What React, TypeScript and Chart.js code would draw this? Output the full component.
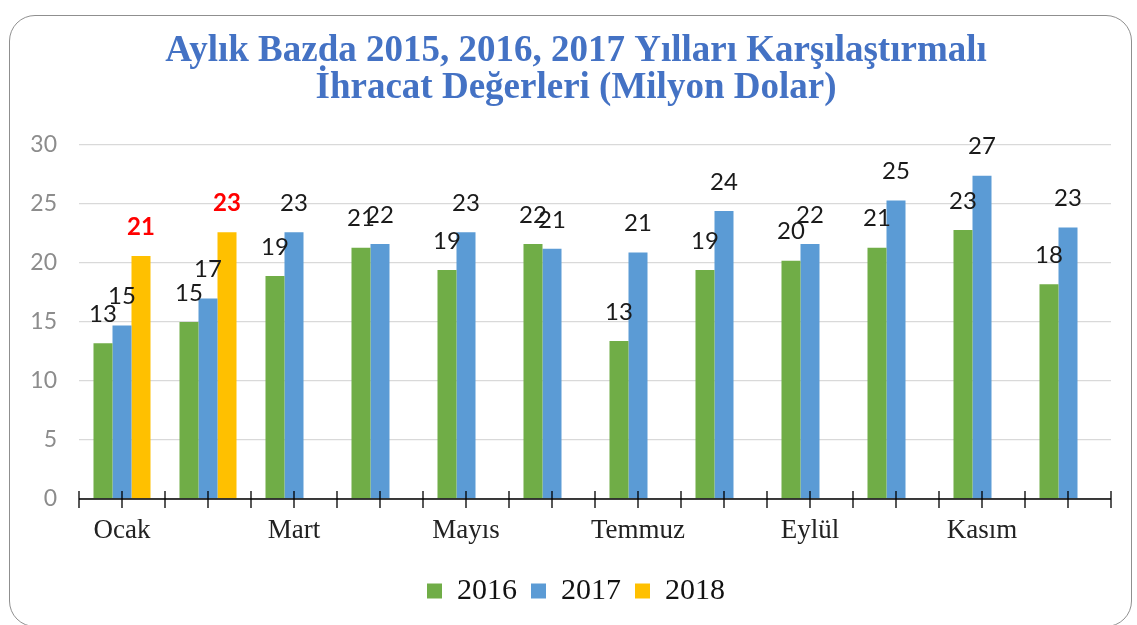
import React, { useEffect, useRef } from 'react';
import { Chart, registerables } from 'chart.js';

Chart.register(...registerables);

const months = ['Ocak', 'Şubat', 'Mart', 'Nisan', 'Mayıs', 'Haziran', 'Temmuz', 'Ağustos', 'Eylül', 'Ekim', 'Kasım', 'Aralık'];
const seriesNames = ['2016', '2017', '2018'];
const values2016 = [13.2, 15.0, 18.9, 21.3, 19.4, 21.6, 13.4, 19.4, 20.2, 21.3, 22.8, 18.2];
const values2017 = [14.7, 17.0, 22.6, 21.6, 22.6, 21.2, 20.9, 24.4, 21.6, 25.3, 27.4, 23.0];
const values2018 = [20.6, 22.6, null, null, null, null, null, null, null, null, null, null];
const seriesColors = ['#70AD47', '#5B9BD5', '#FFC000'];
const titleLines = ['Aylık Bazda 2015, 2016, 2017 Yılları Karşılaştırmalı', 'İhracat Değerleri (Milyon Dolar)'];
const yMin = 0;
const yMax = 30;
const yStep = 5;

const axisTicksPlugin = {
  id: 'axisTicks',
  afterDatasetsDraw(chart: any) {
    const x = chart.scales.x;
    const { ctx, chartArea } = chart;
    const y0 = chartArea.bottom;
    const n = chart.data.labels.length;
    const step = n > 1 ? x.getPixelForValue(1) - x.getPixelForValue(0) : 0;
    ctx.save();
    ctx.strokeStyle = '#000';
    ctx.lineWidth = 1.5;
    ctx.beginPath();
    ctx.moveTo(chartArea.left, y0);
    ctx.lineTo(chartArea.right, y0);
    ctx.stroke();
    ctx.lineWidth = 1.3;
    ctx.beginPath();
    for (let i = 0; i < n; i++) {
      const c = x.getPixelForValue(i);
      [c - step / 2, c].forEach((px) => {
        ctx.moveTo(px, y0 - 8);
        ctx.lineTo(px, y0 + 9);
      });
    }
    const last = x.getPixelForValue(n - 1) + step / 2;
    ctx.moveTo(last, y0 - 8);
    ctx.lineTo(last, y0 + 9);
    ctx.stroke();
    ctx.restore();
  },
};

const valueLabelsPlugin = {
  id: 'valueLabels',
  afterDatasetsDraw(chart: any) {
    const { ctx } = chart;
    chart.data.datasets.forEach((ds: any, di: number) => {
      const meta = chart.getDatasetMeta(di);
      const highlight = di === 2;
      meta.data.forEach((el: any, i: number) => {
        const v = ds.data[i];
        if (v === null || v === undefined) return;
        ctx.save();
        ctx.font = highlight ? 'bold 24px Lato' : '24px Lato';
        ctx.fillStyle = highlight ? '#FF0000' : '#1A1A1A';
        ctx.textAlign = 'center';
        ctx.textBaseline = 'middle';
        ctx.fillText(String(Math.round(v)), el.x, el.y - 29);
        ctx.restore();
      });
    });
  },
};

export default function App() {
  const canvasRef = useRef<HTMLCanvasElement | null>(null);

  useEffect(() => {
    if (!canvasRef.current) return;
    const chart = new Chart(canvasRef.current, {
      type: 'bar',
      data: {
        labels: months,
        datasets: [
          { label: seriesNames[0], data: values2016, backgroundColor: seriesColors[0], borderWidth: 0 },
          { label: seriesNames[1], data: values2017, backgroundColor: seriesColors[1], borderWidth: 0 },
          { label: seriesNames[2], data: values2018, backgroundColor: seriesColors[2], borderWidth: 0 },
        ],
      },
      options: {
        animation: false,
        responsive: false,
        datasets: { bar: { categoryPercentage: 0.663, barPercentage: 1.0 } },
        layout: { padding: { left: 41, right: 26, top: 0, bottom: 9 } },
        plugins: {
          title: {
            display: true,
            text: titleLines,
            color: '#4472C4',
            font: { family: "'Liberation Serif', serif", size: 37, weight: 'bold', lineHeight: 1.0 },
            padding: { top: 33, bottom: 38 },
          },
          legend: {
            position: 'bottom',
            labels: {
              boxWidth: 15,
              boxHeight: 15,
              padding: 14,
              color: '#111',
              font: { family: "'Liberation Serif', serif", size: 30 },
            },
          },
          tooltip: { enabled: false },
        },
        scales: {
          x: {
            grid: { display: false, drawTicks: false },
            border: { display: false },
            ticks: {
              autoSkip: false,
              maxRotation: 0,
              padding: 16,
              color: '#222',
              font: { family: "'Liberation Serif', serif", size: 27 },
              callback: (_v: any, i: number) => (i % 2 === 0 ? months[i] : ''),
            },
            afterFit: (s: any) => {
              s.height = 63;
            },
          },
          y: {
            min: yMin,
            max: yMax,
            ticks: { stepSize: yStep, padding: 22, color: '#8C8C8C', font: { family: 'Lato', size: 23 } },
            grid: { color: '#D9D9D9', lineWidth: 1.3, drawTicks: false },
            border: { display: false },
            afterFit: (s: any) => {
              s.width = 38;
              s._computeLabelArea = () => undefined;
            },
          },
        },
      } as any,
      plugins: [axisTicksPlugin, valueLabelsPlugin],
    });
    return () => chart.destroy();
  }, []);

  return (
    <div style={{ position: 'absolute', left: 0, top: 0, width: 1137, height: 625, background: '#fff' }}>
      <canvas ref={canvasRef} width={1137} height={625} style={{ display: 'block' }} />
      <div
        style={{
          position: 'absolute',
          left: 9,
          top: 15,
          width: 1123,
          height: 612,
          border: '1.5px solid #8F8F8F',
          borderRadius: 26,
          boxSizing: 'border-box',
          pointerEvents: 'none',
        }}
      />
    </div>
  );
}
